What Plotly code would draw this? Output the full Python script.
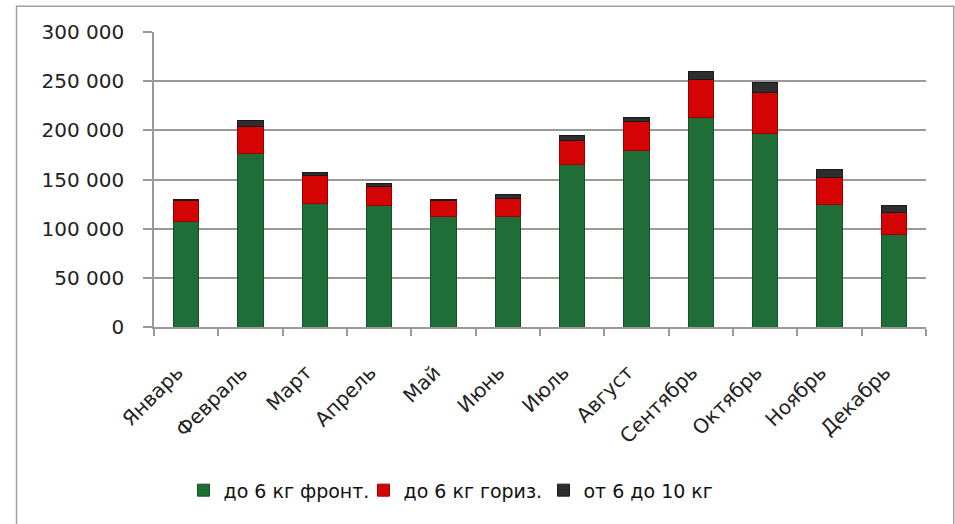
import plotly.graph_objects as go

months = ["Январь", "Февраль", "Март", "Апрель", "Май", "Июнь", "Июль",
          "Август", "Сентябрь", "Октябрь", "Ноябрь", "Декабрь"]
front_6 = [107000, 176000, 126000, 124000, 112500, 112500, 165000,
           180000, 213500, 197000, 124500, 94500]
horiz_6 = [21500, 28000, 28000, 19000, 16000, 18500, 25000,
           28500, 38000, 41000, 27500, 22000]
from_6_10 = [1200, 6000, 3000, 3000, 1000, 4000, 4500,
             5000, 8000, 11000, 8500, 7000]
series_names = ["до 6 кг фронт.", "до 6 кг гориз.", "от 6 до 10 кг"]
y_ticks = [0, 50000, 100000, 150000, 200000, 250000, 300000]

colors = ["#1f6e37", "#d40404", "#2e2e2e"]
edges = ["#14502a", "#9a0000", "#1a1a1a"]

fig = go.Figure()
for name, vals, c, e in zip(series_names, [front_6, horiz_6, from_6_10], colors, edges):
    fig.add_trace(go.Bar(
        x=months, y=vals, name=name,
        marker=dict(color=c, line=dict(color=e, width=1)),
    ))

W, H = 955, 524
L, R, T, B = 153.5, 29.3, 31.7, 197.3
pw = W - L - R
ph = H - T - B

def px_x(x):
    return (x - L) / pw

def px_y(y):
    return (H - B - y) / ph

fig.add_shape(type="rect", xref="paper", yref="paper",
              x0=px_x(16), x1=px_x(953.5), y0=px_y(535), y1=px_y(6),
              line=dict(color="#a0a0a0", width=1.5), layer="below")

fig.update_layout(
    width=W, height=H,
    barmode="stack",
    bargap=0.61,
    separators=", ",
    plot_bgcolor="white",
    paper_bgcolor="white",
    margin=dict(l=L, r=R, t=T, b=B, autoexpand=False),
    font=dict(family="DejaVu Sans", size=19, color="#222222"),
    legend=dict(
        orientation="h",
        x=px_x(183), xanchor="left",
        y=px_y(490), yanchor="middle",
        font=dict(size=19, color="#111111"),
        entrywidth=135,
        itemwidth=30,
        traceorder="normal",
    ),
    xaxis=dict(
        type="category",
        tickangle=-45,
        tickson="boundaries",
        ticks="outside", ticklen=7, tickcolor="#999999", tickwidth=1.5,
        showline=True, linecolor="#999999", linewidth=1.5,
        showgrid=False,
        ticklabelstandoff=24,
        ticklabelshift=-9,
        tickfont=dict(size=20, color="#222222"),
    ),
    yaxis=dict(
        range=[0, 300000],
        tickvals=y_ticks,
        tickformat=",d",
        ticks="outside", ticklen=9, tickcolor="#999999", tickwidth=1.5,
        showline=True, linecolor="#999999", linewidth=1.5,
        showgrid=True, gridcolor="#999999", gridwidth=1.5,
        zeroline=False,
        ticklabelstandoff=15,
        tickfont=dict(size=20, color="#222222"),
    ),
)

fig.write_html("out.html",
               config={"displayModeBar": False},
               post_script="document.body.style.margin='0';document.body.style.overflow='hidden';")
